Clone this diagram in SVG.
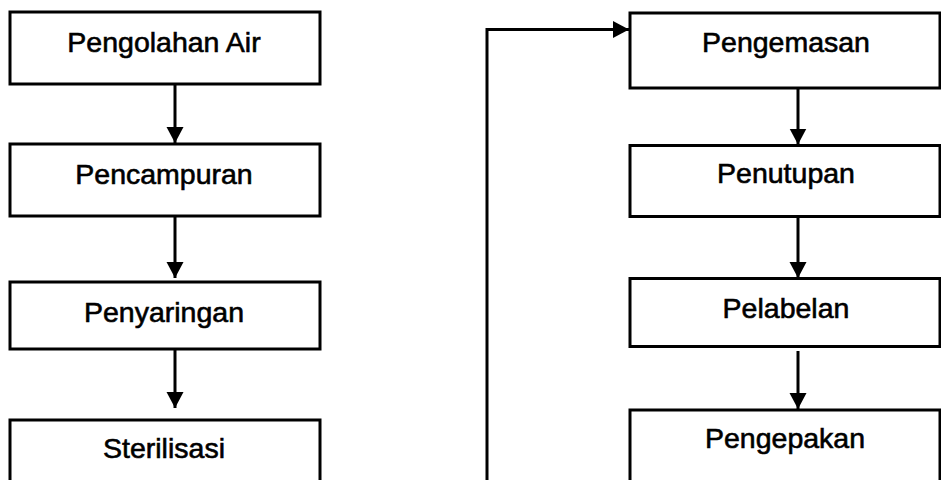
<svg xmlns="http://www.w3.org/2000/svg" width="941" height="480" viewBox="0 0 941 480">
<style>
.box{fill:#fff;stroke:#000;stroke-width:3}
.lbl{font-family:"Liberation Sans",Arial,sans-serif;font-size:28.5px;fill:#000;stroke:#000;stroke-width:0.6;text-anchor:middle}
.conn{fill:none;stroke:#000;stroke-width:3}
</style>
<defs>
<marker id="ah" markerUnits="userSpaceOnUse" markerWidth="18" markerHeight="18" refX="16" refY="9" orient="auto">
<path d="M0,0.5 L16,9 L0,17.5 Z" fill="#000"/>
</marker>
</defs>
<rect width="941" height="480" fill="#fff"/>
<g id="n1"><rect class="box" x="10" y="12" width="310" height="72"/><text class="lbl" x="164" y="52">Pengolahan Air</text></g>
<g id="n2"><rect class="box" x="10" y="144" width="310" height="72"/><text class="lbl" x="164" y="184">Pencampuran</text></g>
<g id="n3"><rect class="box" x="10" y="282" width="310" height="67"/><text class="lbl" x="164" y="321.5">Penyaringan</text></g>
<g id="n4"><rect class="box" x="10" y="420" width="310" height="80"/><text class="lbl" x="164" y="457.5">Sterilisasi</text></g>
<g id="n5"><rect class="box" x="630" y="13" width="310" height="75"/><text class="lbl" x="786" y="51.5">Pengemasan</text></g>
<g id="n6"><rect class="box" x="630" y="145.5" width="310" height="71"/><text class="lbl" x="786" y="182.5">Penutupan</text></g>
<g id="n7"><rect class="box" x="630" y="278.5" width="310" height="68"/><text class="lbl" x="786" y="318">Pelabelan</text></g>
<g id="n8"><rect class="box" x="630" y="410" width="310" height="90"/><text class="lbl" x="785" y="448">Pengepakan</text></g>
<g id="connectors">
<line class="conn" x1="175" y1="84" x2="175" y2="143" marker-end="url(#ah)"/>
<line class="conn" x1="175" y1="216" x2="175" y2="278" marker-end="url(#ah)"/>
<line class="conn" x1="175" y1="349" x2="175" y2="408" marker-end="url(#ah)"/>
<polyline class="conn" points="487,482 487,29.5 629,29.5" marker-end="url(#ah)"/>
<line class="conn" x1="798" y1="88" x2="798" y2="144.5" marker-end="url(#ah)"/>
<line class="conn" x1="798" y1="217" x2="798" y2="278" marker-end="url(#ah)"/>
<line class="conn" x1="798" y1="351" x2="798" y2="409" marker-end="url(#ah)"/>
</g>
</svg>
